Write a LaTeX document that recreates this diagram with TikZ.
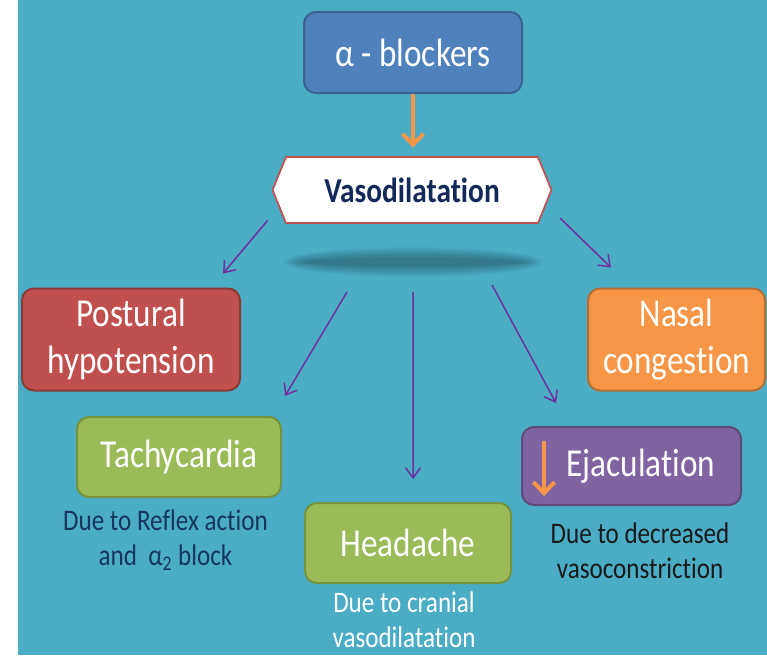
\documentclass[tikz,border=0pt]{standalone}
\usepackage{fontspec}
\setmainfont{Carlito}[FakeStretch=0.84, Ligatures=NoCommon]
\usepackage{xcolor}
\usetikzlibrary{calc}
\usetikzlibrary{positioning,arrows.meta}

\definecolor{sea}{HTML}{4BACC6}
\definecolor{drugblue}{HTML}{4F81BD}
\definecolor{drugline}{HTML}{3A6292}
\definecolor{hexred}{HTML}{C0504D}
\definecolor{vasonavy}{HTML}{14285A}
\definecolor{postred}{HTML}{C0504D}
\definecolor{postline}{HTML}{8C3A38}
\definecolor{effgreen}{HTML}{9BBB59}
\definecolor{effline}{HTML}{76923C}
\definecolor{ejacpurple}{HTML}{8064A2}
\definecolor{ejacline}{HTML}{5F4A79}
\definecolor{nasalorange}{HTML}{F79646}
\definecolor{nasalline}{HTML}{B66D31}
\definecolor{linkpurple}{HTML}{7030A0}
\definecolor{notenavy}{HTML}{17365D}

\tikzset{
  box/.style={rounded corners=0.24cm, line width=0.04cm, text=white, align=center,
    inner sep=0pt, font=\fontsize{22.5}{26.7}\selectfont},
  effect/.style={draw=linkpurple, line width=0.03cm, -{Straight Barb[length=0.2cm,width=0.3cm]}},
  feed/.style={draw=nasalorange, line width=0.08cm, -{Straight Barb[length=0.22cm,width=0.42cm]}},
  note/.style={align=center, inner sep=0pt, font=\fontsize{17}{20.2}\selectfont}
}

\begin{document}
\begin{tikzpicture}
\useasboundingbox (0,0) rectangle (15.34,-13.1);
\fill[sea] (0.36,0) rectangle (15.34,-13.1);

% Drug
\node[box, fill=drugblue, draw=drugline, minimum width=4.36cm, minimum height=1.62cm] (drug) at (8.26,-1.05) {α - blockers};

% Vasodilatation: hexagon, then the node on it
\coordinate (vc) at (8.24,-3.8);
\draw[fill=white, draw=hexred, line width=0.035cm] ($(vc)+(-2.79,0)$) -- ($(vc)+(-2.52,0.66)$) -- ($(vc)+(2.52,0.66)$)
  -- ($(vc)+(2.79,0)$) -- ($(vc)+(2.52,-0.66)$) -- ($(vc)+(-2.52,-0.66)$) -- cycle;
\node[minimum width=5.04cm, minimum height=1.32cm, inner sep=0pt, text=vasonavy,
  font=\bfseries\fontsize{19.9}{22}\selectfont] (vaso) at (vc) {Vasodilatation};

\draw[feed, shorten >=0.18cm] (drug.south) -- (drug.south |- vaso.north);

% soft shadow below the hexagon
\coordinate (glow) at (8.26,-5.24);
\foreach \i in {0,...,9}
  \fill[black, opacity=0.03] (glow) ellipse ({2.6-0.05*\i} and {0.3-0.025*\i});

% Effects
\node[box, fill=postred, draw=postline, minimum width=4.36cm, minimum height=2.04cm] (post) at (2.62,-6.79) {Postural\\hypotension};
\node[box, fill=nasalorange, draw=nasalline, minimum width=3.54cm, minimum height=2.04cm] (nasal) at (13.53,-6.79) {Nasal\\congestion};
\node[box, fill=effgreen, draw=effline, minimum width=4.08cm, minimum height=1.6cm] (tachy) at (3.58,-9.14) {Tachycardia};
\node[box, fill=effgreen, draw=effline, minimum width=4.12cm, minimum height=1.6cm] (head) at (8.16,-10.86) {Headache};
\node[box, fill=ejacpurple, draw=ejacline, minimum width=4.38cm, minimum height=1.56cm] (ejac) at (12.63,-9.32) {\hspace{0.38cm}Ejaculation};
\draw[feed] ([shift={(0.46,-0.3)}]ejac.north west) -- ([shift={(0.46,0.2)}]ejac.south west);

% Notes
\node[note, text=notenavy] (tachynote) at (3.31,-10.8) {Due to Reflex action\\and\ \ α\textsubscript{2} block};
\node[note, text=white] (headnote) at (8.08,-12.39) {Due to cranial\\vasodilatation};
\node[note, text=black!90] (ejacnote) at (12.8,-11.01) {Due to decreased\\vasoconstriction};

% Arrows
\draw[effect] ([shift={(-0.36,0.06)}]vaso.south west) -- ([shift={(-0.36,0.28)}]post.north east);
\draw[effect] ([shift={(-1.32,-0.6)}]glow) -- ([shift={(0.06,0.4)}]tachy.north east);
\draw[effect] ([yshift=-0.6cm]glow) -- ([shift={(0.1,0.46)}]head.north);
\draw[effect] ([shift={(1.58,-0.46)}]glow) -- ([shift={(0.7,0.46)}]ejac.north west);
\draw[effect] ([shift={(0.44,0.1)}]vaso.south east) -- ([shift={(0.48,0.4)}]nasal.north west);
\end{tikzpicture}
\end{document}
